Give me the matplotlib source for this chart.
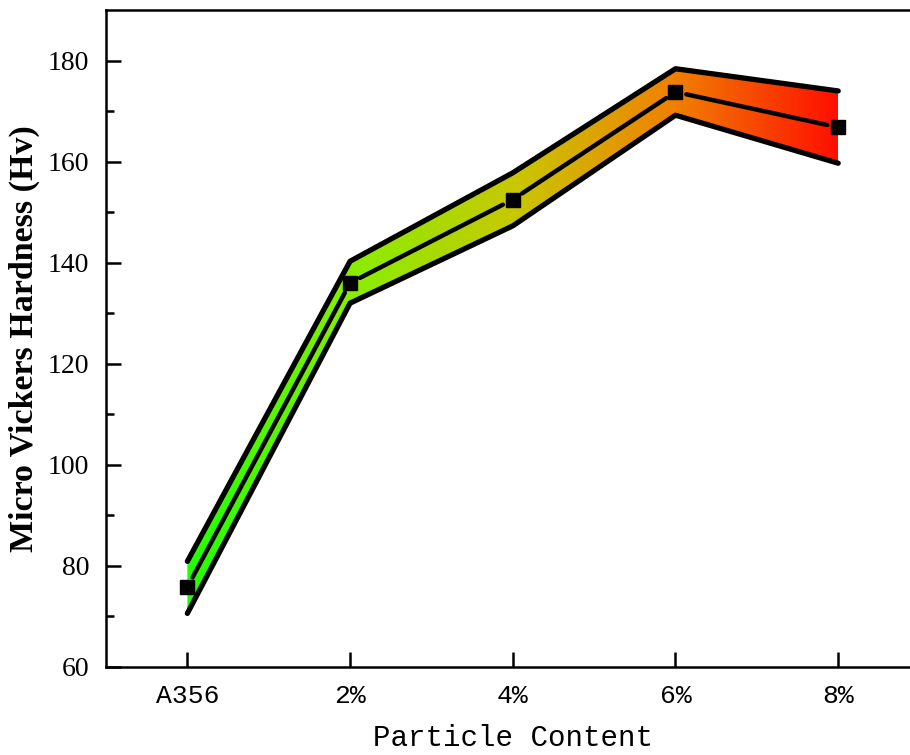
import numpy as np
import matplotlib
matplotlib.use('Agg')
from matplotlib import pyplot as plt
from matplotlib.colors import LinearSegmentedColormap

categories = ['A356', '2%', '4%', '6%', '8%']
hardness = [75.8, 136.0, 152.5, 173.8, 166.8]
upper = [80.9, 140.3, 157.8, 178.4, 174.0]
lower = [70.6, 132.0, 147.3, 169.2, 159.7]
grad_colors = ['#22ff00', '#88ee00', '#c8c800', '#f08000', '#ff1000']

x = np.arange(len(categories))

fig = plt.figure(figsize=(9.1, 7.55), dpi=100)
ax = fig.add_axes([0.1165, 0.1166, 0.894, 0.870])

# gradient band clipped to the area between upper and lower
cmap = LinearSegmentedColormap.from_list('band', grad_colors)
band = ax.fill_between(x, lower, upper, facecolor='none', edgecolor='none')
grad = np.linspace(0, 1, 400).reshape(1, -1)
im = ax.imshow(grad, extent=[x[0], x[-1], min(lower), max(upper)],
               aspect='auto', cmap=cmap, origin='lower', zorder=1)
im.set_clip_path(band.get_paths()[0], transform=ax.transData)

ax.plot(x, upper, color='black', lw=3.8, solid_capstyle='round',
        solid_joinstyle='round', zorder=3)
ax.plot(x, lower, color='black', lw=3.8, solid_capstyle='round',
        solid_joinstyle='round', zorder=3)

# mean line with small gaps around the markers
for i in range(len(x) - 1):
    ax.annotate('', xy=(x[i+1], hardness[i+1]), xytext=(x[i], hardness[i]),
                arrowprops=dict(arrowstyle='-', lw=3.2, color='black',
                                shrinkA=8, shrinkB=8), zorder=3)
ax.plot(x, hardness, linestyle='none', marker='s', markersize=10,
        color='black', zorder=4)

ax.set_xlim(-0.5, 4.5)
ax.set_ylim(60, 190)
ax.set_yticks(np.arange(60, 181, 20))
ax.set_yticks(np.arange(70, 181, 20), minor=True)
ax.set_xticks(x)
ax.set_xticklabels(categories, family='Liberation Mono', fontsize=19)
for lab in ax.get_yticklabels():
    lab.set_family('Liberation Serif')
    lab.set_fontsize(20)

ax.tick_params(axis='both', which='major', direction='in', length=11,
               width=1.8, pad=12)
ax.tick_params(axis='y', which='minor', direction='in', length=6, width=1.8)
ax.tick_params(axis='x', pad=12)
ax.spines['right'].set_visible(False)
for s in ax.spines.values():
    s.set_linewidth(1.8)

ax.set_ylabel('Micro Vickers Hardness (Hv)', family='Liberation Serif',
              fontweight='bold', fontsize=24.5, labelpad=6)
ax.set_xlabel('Particle Content', family='Liberation Mono', fontsize=21,
              labelpad=12)

plt.savefig('out.png', dpi=100)
